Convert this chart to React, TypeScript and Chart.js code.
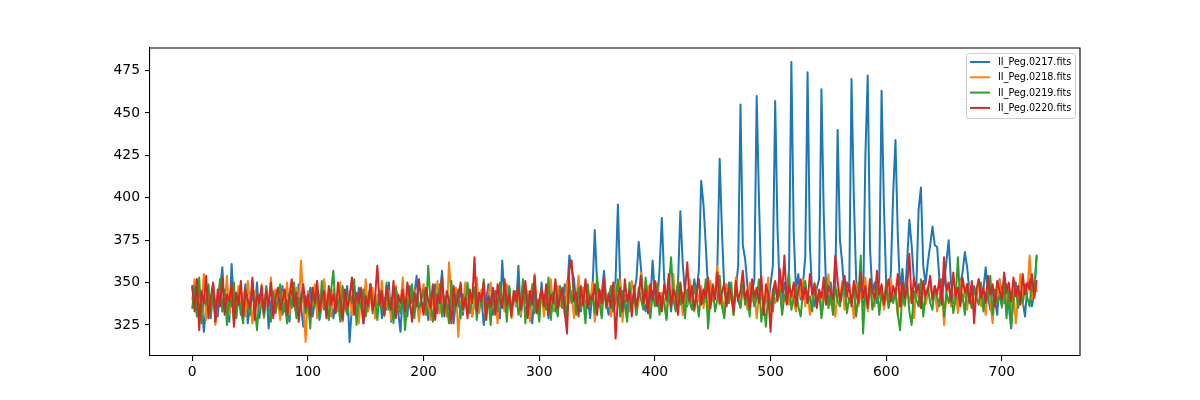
import React, { useEffect, useRef } from "react";
import { Chart, registerables } from "chart.js";

Chart.register(...registerables);

const LABELS = ["II_Peg.0217.fits", "II_Peg.0218.fits", "II_Peg.0219.fits", "II_Peg.0220.fits"];
const COLORS = ["#1f77b4", "#ff7f0e", "#2ca02c", "#d62728"];
const X_TICKS = [0, 100, 200, 300, 400, 500, 600, 700];
const Y_TICKS = [325, 350, 375, 400, 425, 450, 475];
const SAMPLE_STEP = 2; // frame index spacing of the samples below

const s0217 = [
  347, 338, 352, 333, 340, 321, 336, 344, 329, 349, 337, 330, 346, 359, 334, 341, 327, 361, 338, 330,
  344, 331, 339, 349, 326, 337, 343, 335, 350, 329, 340, 334, 347, 323, 338, 345, 332, 341, 336, 348,
  333, 340, 327, 345, 338, 331, 349, 336, 324, 342, 335, 347, 330, 339, 344, 328, 337, 351, 333, 340,
  346, 329, 338, 335, 344, 331, 339, 348, 315, 336, 342, 330, 347, 337, 326, 343, 334, 349, 332, 340,
  337, 345, 329, 341, 334, 350, 327, 339, 346, 333, 321, 344, 336, 330, 348, 338, 343, 354, 331, 339,
  335, 346, 328, 341, 337, 349, 332, 343, 357, 330, 339, 334, 345, 326, 340, 336, 348, 331, 343, 337,
  344, 330, 338, 347, 333, 341, 325, 339, 349, 336, 331, 345, 338, 329, 363, 340, 334, 347, 332, 343,
  336, 360, 330, 341, 348, 334, 339, 326, 345, 337, 331, 350, 336, 343, 329, 347, 338, 333, 346, 340,
  335, 349, 342, 366, 358, 352, 338, 344, 333, 347, 336, 341, 329, 345, 381, 350, 336, 343, 357, 338,
  331, 344, 336, 352, 396, 349, 335, 342, 330, 346, 338, 344, 352, 374, 358, 340, 333, 345, 337, 363,
  343, 336, 358, 388, 352, 339, 345, 333, 348, 341, 350, 392, 362, 343, 336, 347, 339, 352, 344, 357,
  410, 396, 372, 345, 337, 349, 341, 360, 423, 380, 346, 338, 350, 342, 336, 346, 360, 455, 372, 364,
  348, 338, 344, 352, 460, 398, 347, 335, 342, 337, 349, 360, 457, 382, 344, 338, 350, 342, 358, 480,
  380, 345, 355, 340, 349, 365, 474, 372, 343, 336, 347, 352, 464, 390, 346, 338, 350, 336, 349, 440,
  375, 361, 342, 350, 345, 470, 400, 352, 340, 347, 336, 425, 472, 370, 344, 350, 338, 352, 463, 396,
  348, 337, 356, 402, 434, 378, 345, 358, 340, 362, 387, 372, 351, 346, 393, 406, 360, 349, 362, 372,
  383, 372, 371, 352, 342, 350, 362, 375, 350, 338, 346, 336, 349, 356, 368, 359, 344, 337, 348, 341,
  352, 338, 346, 359, 342, 334, 348, 340, 331, 352, 344, 338, 349, 336, 323, 342, 350, 337, 345, 339,
  330, 348, 352, 336, 344, 366,
];

const s0218 = [
  340, 352, 330, 346, 338, 355, 328, 343, 336, 349, 325, 341, 347, 333, 338, 354, 331, 344, 327, 339,
  348, 335, 343, 330, 351, 338, 326, 345, 340, 334, 349, 329, 342, 337, 353, 332, 346, 339, 328, 344,
  336, 350, 331, 342, 338, 347, 333, 363, 338, 315, 345, 332, 340, 349, 329, 343, 335, 352, 337, 341,
  330, 346, 338, 333, 350, 327, 342, 337, 345, 331, 348, 339, 326, 344, 336, 352, 333, 340, 347, 329,
  343, 336, 351, 330, 339, 345, 328, 341, 348, 334, 338, 353, 329, 344, 337, 331, 346, 340, 327, 342,
  349, 334, 340, 328, 345, 337, 351, 332, 343, 338, 330, 362, 341, 335, 347, 318, 339, 333, 350, 336,
  344, 330, 339, 353, 332, 346, 337, 328, 342, 350, 335, 341, 326, 347, 338, 333, 349, 340, 329, 345,
  336, 343, 331, 350, 338, 345, 327, 341, 355, 334, 339, 346, 330, 344, 337, 352, 333, 341, 348, 336,
  342, 331, 351, 338, 345, 329, 340, 354, 335, 347, 332, 343, 338, 350, 327, 341, 346, 334, 352, 339,
  344, 330, 338, 349, 336, 352, 327, 343, 340, 333, 351, 345, 331, 339, 356, 336, 342, 348, 330, 345,
  337, 350, 333, 344, 340, 329, 347, 338, 355, 334, 342, 349, 331, 345, 337, 352, 340, 333, 346, 339,
  348, 335, 343, 330, 351, 339, 345, 360, 337, 342, 333, 349, 338, 344, 331, 353, 340, 336, 347, 341,
  334, 350, 339, 345, 329, 342, 348, 336, 340, 353, 332, 346, 338, 343, 351, 335, 341, 349, 337, 344,
  339, 333, 348, 342, 352, 336, 345, 331, 340, 350, 338, 344, 334, 347, 341, 355, 337, 343, 330, 346,
  340, 351, 334, 345, 338, 342, 329, 349, 336, 344, 340, 353, 333, 347, 339, 336, 350, 341, 346, 334,
  343, 337, 352, 339, 345, 331, 348, 340, 336, 350, 338, 344, 329, 346, 341, 335, 349, 337, 343, 352,
  338, 345, 333, 341, 348, 325, 343, 350, 336, 340, 346, 332, 351, 339, 345, 334, 348, 341, 337, 344,
  350, 336, 342, 331, 347, 339, 326, 345, 340, 352, 335, 343, 338, 349, 333, 346, 326, 341, 355, 337,
  348, 343, 366, 340, 351, 345,
];

const s0219 = [
  335, 348, 330, 353, 326, 341, 337, 349, 331, 344, 328, 339, 352, 333, 346, 325, 340, 336, 350, 329,
  342, 334, 326, 347, 338, 331, 351, 336, 322, 343, 339, 330, 348, 335, 327, 345, 333, 340, 349, 331,
  338, 326, 344, 335, 350, 329, 341, 337, 346, 332, 340, 323, 347, 336, 343, 330, 351, 334, 339, 328,
  345, 357, 333, 340, 327, 348, 336, 331, 344, 338, 352, 325, 341, 335, 346, 330, 339, 349, 333, 342,
  328, 345, 337, 331, 350, 334, 341, 326, 347, 338, 332, 344, 322, 340, 336, 349, 329, 343, 335, 339,
  346, 331, 360, 338, 327, 344, 335, 349, 330, 342, 337, 326, 351, 334, 340, 346, 329, 343, 336, 350,
  332, 339, 347, 328, 344, 336, 352, 330, 341, 325, 346, 338, 333, 350, 337, 343, 327, 348, 334, 340,
  345, 331, 338, 352, 326, 343, 336, 349, 332, 340, 327, 346, 339, 334, 353, 328, 344, 337, 330, 348,
  336, 342, 329, 351, 338, 344, 331, 347, 335, 340, 326, 349, 337, 343, 332, 354, 339, 329, 346, 335,
  341, 348, 333, 339, 352, 330, 345, 337, 327, 350, 336, 342, 331, 347, 340, 334, 353, 338, 329, 344,
  336, 349, 331, 342, 338, 328, 347, 365, 340, 333, 351, 337, 344, 329, 346, 339, 334, 348, 341, 330,
  345, 338, 352, 323, 341, 347, 333, 340, 354, 336, 329, 344, 338, 350, 331, 346, 340, 335, 349, 337,
  343, 330, 348, 336, 341, 352, 327, 339, 324, 345, 337, 333, 350, 340, 346, 331, 343, 338, 355, 334,
  341, 347, 336, 330, 344, 351, 338, 342, 333, 349, 337, 345, 329, 340, 353, 335, 343, 331, 348, 339,
  336, 344, 350, 332, 341, 338, 347, 330, 343, 366, 320, 345, 337, 352, 334, 340, 348, 331, 344, 339,
  350, 335, 342, 338, 346, 331, 322, 344, 337, 349, 333, 325, 345, 340, 336, 352, 330, 343, 347, 338,
  334, 348, 341, 336, 352, 330, 344, 338, 346, 332, 340, 365, 337, 343, 331, 349, 339, 335, 346, 341,
  337, 350, 333, 344, 340, 354, 331, 346, 338, 342, 336, 351, 329, 345, 324, 340, 348, 335, 343, 338,
  349, 341, 336, 352, 344, 365,
];

const s0220 = [
  348, 333, 352, 322, 345, 338, 354, 329, 341, 350, 327, 346, 336, 353, 331, 343, 339, 349, 324, 344,
  337, 351, 330, 346, 340, 335, 353, 328, 343, 338, 348, 332, 345, 336, 350, 329, 341, 347, 334, 339,
  346, 331, 342, 352, 336, 344, 327, 340, 349, 335, 343, 330, 347, 338, 351, 333, 341, 345, 329, 348,
  337, 343, 332, 350, 339, 328, 346, 335, 341, 353, 331, 344, 338, 347, 326, 342, 336, 349, 334, 341,
  360, 337, 345, 331, 348, 339, 334, 351, 329, 343, 338, 346, 333, 350, 340, 327, 344, 336, 352, 339,
  331, 347, 340, 335, 349, 328, 343, 338, 353, 332, 345, 339, 326, 348, 336, 342, 350, 334, 341, 329,
  346, 338, 365, 333, 344, 339, 350, 328, 342, 336, 347, 331, 349, 340, 335, 352, 337, 343, 330, 345,
  339, 348, 334, 342, 351, 329, 345, 337, 354, 332, 340, 346, 336, 349, 331, 343, 338, 352, 335, 341,
  347, 333, 320, 358, 363, 339, 344, 330, 348, 337, 352, 335, 342, 340, 349, 331, 346, 338, 353, 336,
  343, 335, 350, 317, 341, 347, 333, 352, 339, 345, 330, 348, 336, 343, 354, 338, 346, 332, 349, 340,
  351, 337, 344, 333, 349, 340, 355, 336, 346, 342, 331, 350, 338, 345, 362, 339, 348, 334, 343, 352,
  337, 346, 341, 353, 335, 348, 340, 356, 338, 344, 350, 336, 347, 342, 333, 351, 339, 345, 357, 340,
  346, 335, 352, 341, 347, 338, 354, 331, 349, 343, 321, 345, 351, 339, 358, 344, 366, 337, 348, 342,
  350, 336, 345, 352, 340, 347, 338, 355, 343, 349, 335, 346, 341, 353, 337, 348, 344, 340, 366, 351,
  339, 347, 354, 342, 349, 336, 351, 344, 338, 356, 341, 348, 335, 352, 345, 340, 357, 343, 349, 337,
  346, 352, 339, 348, 343, 355, 336, 350, 341, 347, 367, 338, 353, 344, 349, 335, 351, 342, 346, 354,
  340, 348, 343, 352, 337, 365, 345, 350, 339, 356, 342, 347, 336, 353, 344, 349, 338, 351, 326, 346,
  352, 341, 347, 338, 354, 343, 349, 336, 351, 345, 340, 356, 344, 350, 339, 353, 342, 348, 337, 355,
  343, 350, 346, 355, 341, 351,
];

const SERIES = [s0217, s0218, s0219, s0220];
const FONT = "DejaVu Sans";

export default function App() {
  const ref = useRef<HTMLCanvasElement>(null);

  useEffect(() => {
    if (!ref.current) return;
    const datasets = SERIES.map((vals, k) => ({
      label: LABELS[k],
      data: vals.map((v, i) => ({ x: i * SAMPLE_STEP, y: v })),
      borderColor: COLORS[k],
      backgroundColor: COLORS[k],
      borderWidth: 2,
      pointRadius: 0,
      pointHoverRadius: 0,
      tension: 0,
      fill: false,
      borderJoinStyle: "round" as const,
      borderCapStyle: "round" as const,
      order: SERIES.length - 1 - k,
    }));

    const frame = {
      id: "frame",
      afterDraw(chart: any) {
        const { ctx, chartArea: a } = chart;
        ctx.save();
        ctx.strokeStyle = "#000";
        ctx.lineWidth = 1.1;
        ctx.beginPath();
        ctx.moveTo(a.left, a.top);
        ctx.lineTo(a.right, a.top);
        ctx.lineTo(a.right, a.bottom);
        ctx.stroke();
        ctx.restore();
      },
    };

    const mplLegend = {
      id: "mplLegend",
      afterDraw(chart: any) {
        const { ctx } = chart;
        const fs = 9.6;
        const x0 = 966.5, y0 = 53.5, w = 109, h = 65;
        const r = 2;
        ctx.save();
        ctx.beginPath();
        ctx.moveTo(x0 + r, y0);
        ctx.lineTo(x0 + w - r, y0);
        ctx.arcTo(x0 + w, y0, x0 + w, y0 + r, r);
        ctx.lineTo(x0 + w, y0 + h - r);
        ctx.arcTo(x0 + w, y0 + h, x0 + w - r, y0 + h, r);
        ctx.lineTo(x0 + r, y0 + h);
        ctx.arcTo(x0, y0 + h, x0, y0 + h - r, r);
        ctx.lineTo(x0, y0 + r);
        ctx.arcTo(x0, y0, x0 + r, y0, r);
        ctx.closePath();
        ctx.fillStyle = "rgba(255,255,255,0.8)";
        ctx.fill();
        ctx.strokeStyle = "#cccccc";
        ctx.lineWidth = 1;
        ctx.stroke();
        ctx.font = `${fs}px "${FONT}"`;
        ctx.textBaseline = "middle";
        ctx.textAlign = "left";
        chart.data.datasets.forEach((ds: any, k: number) => {
          const y = 62 + k * 15.3;
          ctx.strokeStyle = ds.borderColor;
          ctx.lineWidth = 2;
          ctx.beginPath();
          ctx.moveTo(970, y);
          ctx.lineTo(990, y);
          ctx.stroke();
          ctx.fillStyle = "#000";
          ctx.fillText(ds.label, 998, y + 0.5);
        });
        ctx.restore();
      },
    };

    const axisCommon = {
      grid: { drawOnChartArea: false, drawTicks: true, tickLength: 5, color: "#000", lineWidth: 1.1 },
      border: { display: true, color: "#000", width: 1.1 },
    };

    const chart = new Chart(ref.current, {
      type: "line",
      data: { datasets },
      options: {
        animation: false,
        responsive: false,
        devicePixelRatio: 1,
        events: [],
        layout: { padding: { left: 0, top: 48, right: 120, bottom: 0 } },
        plugins: { legend: { display: false }, tooltip: { enabled: false } },
        scales: {
          x: {
            type: "linear",
            min: -36.55,
            max: 767.55,
            afterBuildTicks: (s: any) => {
              s.ticks = X_TICKS.map((v) => ({ value: v }));
            },
            afterFit: (s: any) => {
              s.height = 44;
            },
            ...axisCommon,
            ticks: {
              color: "#000",
              font: { family: FONT, size: 13.9 },
              padding: 3,
              maxRotation: 0,
              autoSkip: false,
              callback: (v: any) => String(v),
            },
          },
          y: {
            type: "linear",
            min: 306.75,
            max: 488.25,
            afterBuildTicks: (s: any) => {
              s.ticks = Y_TICKS.map((v) => ({ value: v }));
            },
            afterFit: (s: any) => {
              s.width = 150;
            },
            ...axisCommon,
            ticks: {
              color: "#000",
              font: { family: FONT, size: 13.9 },
              padding: 5,
              autoSkip: false,
              callback: (v: any) => String(v),
            },
          },
        },
      },
      plugins: [frame, mplLegend],
    } as any);

    return () => chart.destroy();
  }, []);

  return (
    <div style={{ position: "absolute", left: 0, top: 0, width: 1200, height: 400, background: "#fff" }}>
      <canvas ref={ref} width={1200} height={400} style={{ display: "block", width: 1200, height: 400 }} />
    </div>
  );
}
